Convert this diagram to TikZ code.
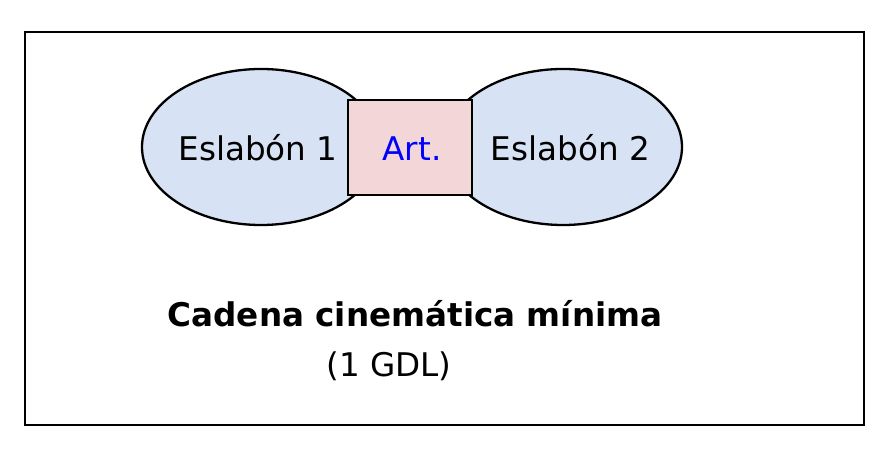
\documentclass[tikz,border=0pt]{standalone}
\usepackage{fontspec}
\setmainfont{DejaVu Sans}
\usetikzlibrary{shapes.geometric}
\definecolor{linkfill}{HTML}{D7E3F4}
\definecolor{jointfill}{HTML}{F3D7D8}
\tikzset{
  linkshape/.style={ellipse, draw=black, line width=2.3bp, fill=linkfill, minimum width=238bp, minimum height=156bp, inner sep=0pt},
  jointshape/.style={rectangle, draw=black, line width=2.8bp, fill=jointfill, minimum width=124bp, minimum height=95bp, inner sep=0pt},
  lbl/.style={font=\fontsize{32.6bp}{38bp}\selectfont, anchor=base, inner sep=0pt},
}
\begin{document}
\begin{tikzpicture}[x=1bp,y=-1bp]
\useasboundingbox (0,0) rectangle (894,454);
\node[draw=black, line width=1.6bp, minimum width=839bp, minimum height=393bp, inner sep=0pt] (frame) at (444.5,228.5) {};
\node[linkshape] (l1) at (261,147) {};
\node[linkshape] (l2) at (563,147) {};
\node[jointshape] (j) at (410,147.5) {};
\node[lbl] (t1) at (258,161) {Eslabón 1};
\node[lbl] (t2) at (570.5,161) {Eslabón 2};
\node[lbl, text=blue] (tj) at (412,161) {Art.};
\node[lbl, font=\fontsize{32.6bp}{38bp}\selectfont\bfseries] (title) at (415,327) {Cadena cinemática mínima};
\node[lbl] (sub) at (389,377) {(1 GDL)};
\end{tikzpicture}
\end{document}
